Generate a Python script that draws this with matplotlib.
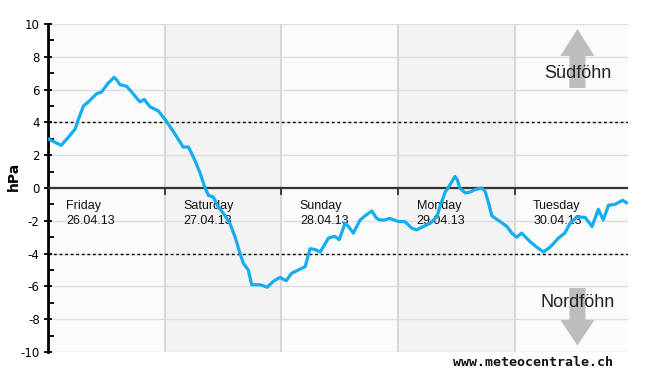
import matplotlib.pyplot as plt
import numpy as np

# pressure difference (hPa), x in hours since Fri 00:00
hours = [0, 2.7, 4.2, 5.6, 6.2, 7.3, 8.3, 10.0, 11.0, 12.4, 13.6, 14.1, 14.8,
         16.2, 17.5, 18.9, 19.8, 21.0, 22.7, 24.4, 26.1, 27.8, 28.9, 30.2,
         31.3, 32.3, 33.0, 34.0, 35.0, 36.1, 37.4, 38.5, 39.5, 40.2, 41.2,
         41.9, 43.6, 45.1, 46.3, 47.7, 49.0, 50.1, 51.5, 52.9, 53.9, 54.9,
         56.0, 57.7, 59.0, 59.9, 61.1, 61.8, 62.8, 64.2, 65.2, 66.6, 67.6,
         68.3, 69.3, 70.3, 72.1, 73.4, 74.8, 75.8, 77.2, 78.6, 80.0, 80.6,
         81.7, 82.7, 83.7, 84.2, 84.7, 85.8, 86.8, 87.8, 89.2, 89.9, 90.6,
         91.3, 93.0, 94.4, 95.4, 96.4, 97.4, 99.1, 100.5, 101.9, 103.3,
         105.0, 106.3, 107.4, 108.8, 110.5, 111.9, 113.2, 114.2, 115.3,
         116.6, 118.2, 119.0]
hpa = [3.0, 2.6, 3.1, 3.6, 4.15, 5.0, 5.25, 5.75, 5.85, 6.4, 6.75, 6.6, 6.3,
       6.2, 5.75, 5.25, 5.4, 4.95, 4.7, 4.05, 3.3, 2.5, 2.5, 1.7,
       0.9, 0.0, -0.45, -0.55, -1.15, -1.55, -2.15, -3.0, -4.0, -4.6, -5.0,
       -5.9, -5.9, -6.05, -5.7, -5.45, -5.65, -5.2, -5.0, -4.8, -3.7, -3.75,
       -3.9, -3.05, -2.95, -3.15, -2.15, -2.35, -2.75, -1.95, -1.7, -1.4, -1.85,
       -1.95, -1.95, -1.85, -2.05, -2.05, -2.45, -2.55, -2.35, -2.15, -1.75, -1.15,
       -0.25, 0.2, 0.7, 0.5, 0.0, -0.3, -0.25, -0.1, 0.0, -0.2, -0.9,
       -1.7, -2.05, -2.35, -2.75, -3.0, -2.75, -3.25, -3.6, -3.9, -3.6,
       -3.05, -2.75, -2.15, -1.75, -1.8, -2.35, -1.3, -1.95, -1.05,
       -1.0, -0.75, -0.9]

day_names = ["Friday", "Saturday", "Sunday", "Monday", "Tuesday"]
day_dates = ["26.04.13", "27.04.13", "28.04.13", "29.04.13", "30.04.13"]
shaded_days = [1, 3]
foehn_limit = 4

LINE_COLOR = "#14adef"
ARROW_COLOR = "#bdbdbd"
X_END = 119.3


def draw_arrow(ax, xc, y_tail, y_base, y_tip):
    """Block arrow: shaft from y_tail to y_base, triangular head to y_tip."""
    sw, hw = 1.65, 3.5
    xs = [xc - sw, xc + sw, xc + sw, xc + hw, xc, xc - hw, xc - sw]
    ys = [y_tail, y_tail, y_base, y_base, y_tip, y_base, y_base]
    ax.fill(xs, ys, color=ARROW_COLOR, lw=0, zorder=2)


plt.rcParams["axes.unicode_minus"] = False

fig = plt.figure(figsize=(6.5, 3.75), dpi=100)
ax = fig.add_axes([48 / 650, 23 / 375, 580 / 650, 328 / 375])
ax.set_facecolor("#fbfbfb")

for d in shaded_days:
    ax.axvspan(d * 24, (d + 1) * 24, color="#f3f3f3", lw=0, zorder=0)

for y in range(-10, 11, 2):
    ax.axhline(y, color="#dedede", lw=1, zorder=1)
for d in range(1, 5):
    ax.axvline(d * 24, color="#d4d4d4", lw=1.3, zorder=1)

ax.axhline(foehn_limit, color="black", ls=(0, (2, 2)), lw=1, zorder=2)
ax.axhline(-foehn_limit, color="black", ls=(0, (2, 2)), lw=1, zorder=2)
ax.axhline(0, color="#333333", lw=1.6, zorder=3)
ax.vlines([24, 48, 72, 96], -0.4, 0, color="#333333", lw=1.3, zorder=3)

draw_arrow(ax, 108.9, 6.1, 8.05, 9.7)
draw_arrow(ax, 108.9, -6.1, -8.05, -9.6)
ax.text(108.9, 7.0, "Südföhn", ha="center", va="center", fontsize=13,
        family="Liberation Sans", color="#222222", zorder=4)
ax.text(108.9, -7.0, "Nordföhn", ha="center", va="center", fontsize=13,
        family="Liberation Sans", color="#222222", zorder=4)

for i, (name, date) in enumerate(zip(day_names, day_dates)):
    ax.text(i * 24 + 3.8, -0.75, f"{name}\n{date}", ha="left", va="top",
            fontsize=9, family="Liberation Sans", color="#111111",
            linespacing=1.3, zorder=4)

ax.plot(hours, hpa, color=LINE_COLOR, lw=2.3, zorder=5, solid_joinstyle="round")

ax.set_xlim(0, X_END)
ax.set_ylim(-10, 10)
ax.set_yticks(np.arange(-10, 11, 2))
ax.set_yticks(np.arange(-9, 10, 2), minor=True)
ax.set_xticks([])
ax.tick_params(axis="y", which="major", direction="inout", length=6, width=1.3,
               labelsize=8.5, pad=3)
ax.tick_params(axis="y", which="minor", direction="in", length=4, width=1.3)
for side in ["top", "right", "bottom"]:
    ax.spines[side].set_visible(False)
ax.spines["left"].set_linewidth(2)
ax.spines["left"].set_color("black")

ax.set_ylabel("hPa", fontsize=10, fontweight="bold")
ax.yaxis.set_label_coords(-0.047, 0.534)

fig.text(613 / 650, 12 / 375, "www.meteocentrale.ch", ha="right", va="center",
         fontsize=9.5, fontweight="bold", family="DejaVu Sans Mono", color="#111111")

fig.savefig("out.png", dpi=100)
